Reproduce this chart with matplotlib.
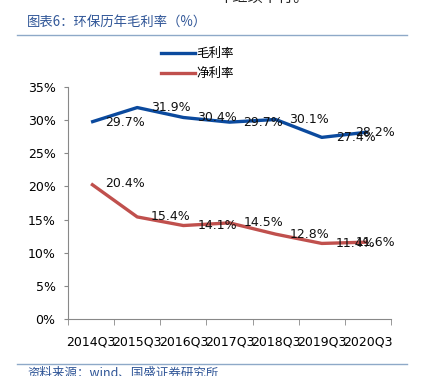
import matplotlib
matplotlib.use("Agg")
import matplotlib.pyplot as plt
from matplotlib.lines import Line2D
import numpy as np

plt.rcParams['font.family'] = ['DejaVu Sans', 'Noto Sans CJK SC']

quarters = ['2014Q3', '2015Q3', '2016Q3', '2017Q3', '2018Q3', '2019Q3', '2020Q3']
gross_margin = [29.7, 31.9, 30.4, 29.7, 30.1, 27.4, 28.2]
net_margin = [20.4, 15.4, 14.1, 14.5, 12.8, 11.4, 11.6]
y_ticks = [0, 5, 10, 15, 20, 25, 30, 35]

blue = '#0B4A9E'
red = '#C0504D'
cjk = ['Noto Sans CJK SC', 'DejaVu Sans']

fig = plt.figure(figsize=(4.23, 3.76), dpi=100)
ax = fig.add_axes([68 / 423, 1 - 319 / 376, 323 / 423, 232 / 376])

x = np.arange(len(quarters))
ax.plot(x, gross_margin, color=blue, lw=2.4, solid_capstyle='butt')
ax.plot(x, net_margin, color=red, lw=2.4, solid_capstyle='butt')

# data labels sit to the right of each point, last one pulled back inside
for series in (gross_margin, net_margin):
    for i, v in enumerate(series):
        dx = 10 if i < len(series) - 1 else -9
        ax.annotate('%.1f%%' % v, (i, v), xytext=(dx, 0), textcoords='offset points',
                    ha='left', va='center', fontsize=9, color='#111111')

ax.set_xlim(-0.5, len(quarters) - 0.5)
ax.set_ylim(0, 35)
ax.set_yticks(y_ticks)
ax.set_yticklabels(['%d%%' % t for t in y_ticks], fontsize=9)
ax.set_xticks(x)
ax.set_xticklabels(quarters, fontsize=9)
ax.set_xticks(np.arange(len(quarters) + 1) - 0.5, minor=True)
ax.tick_params(axis='x', which='major', length=0, pad=12)
ax.tick_params(axis='x', which='minor', length=4, color='#888888')
ax.tick_params(axis='y', length=3, color='#888888', pad=6)
for s in ('top', 'right'):
    ax.spines[s].set_visible(False)
for s in ('left', 'bottom'):
    ax.spines[s].set_color('#888888')
    ax.spines[s].set_linewidth(0.8)

handles = [Line2D([], [], color=blue, lw=2.4), Line2D([], [], color=red, lw=2.4)]
fig.legend(handles, ['毛利率', '净利率'], loc='upper left', bbox_to_anchor=(150 / 423, 1 - 36 / 376),
           frameon=False, prop={'family': cjk, 'size': 9}, handlelength=2.7,
           labelspacing=0.55, handletextpad=0.1)

# page header / footer
fig.text(263 / 423, 1 + 3 / 376, '年继续下行。', family=cjk, fontsize=11, ha='center', va='center', color='#222222')
fig.text(27 / 423, 1 - 22 / 376, '图表6：环保历年毛利率（%）', family=cjk, fontsize=9.6,
         color='#2F5597', va='center', ha='left')
fig.add_artist(Line2D([17 / 423, 407 / 423], [1 - 35 / 376] * 2, color='#8EA9C8', lw=1))
fig.add_artist(Line2D([17 / 423, 407 / 423], [1 - 364 / 376] * 2, color='#8EA9C8', lw=1))
fig.text(27 / 423, 1 - 373 / 376, '资料来源：wind、国盛证券研究所', family=cjk, fontsize=9,
         color='#2F5597', va='center', ha='left')

fig.savefig('out.png', dpi=100)
